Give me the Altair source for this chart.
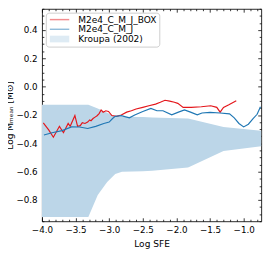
import altair as alt
import pandas as pd
import numpy as np

# ---------------- data ----------------
red_x = [-3.98, -3.90, -3.83, -3.74, -3.68, -3.61, -3.58, -3.51, -3.47, -3.43, -3.40, -3.36,
         -3.32, -3.29, -3.27, -3.24, -3.21, -3.18, -3.15, -3.12, -3.09, -3.05, -3.01, -2.96,
         -2.89, -2.82, -2.74, -2.67, -2.60, -2.50, -2.41, -2.31, -2.24, -2.17, -2.10, -2.03,
         -1.98, -1.90, -1.78, -1.63, -1.49, -1.40, -1.35, -1.30, -1.22, -1.11]
red_y = [-0.256, -0.305, -0.357, -0.280, -0.325, -0.260, -0.280, -0.204, -0.280, -0.275, -0.255, -0.260,
         -0.250, -0.235, -0.240, -0.225, -0.215, -0.205, -0.190, -0.164, -0.180, -0.170, -0.175, -0.204,
         -0.210, -0.200, -0.180, -0.170, -0.158, -0.146, -0.135, -0.123, -0.110, -0.096, -0.102, -0.110,
         -0.118, -0.146, -0.146, -0.142, -0.135, -0.146, -0.180, -0.146, -0.128, -0.100]

blue_x = [-3.97, -3.85, -3.70, -3.56, -3.44, -3.32, -3.20, -3.08, -3.00, -2.95, -2.91, -2.82,
          -2.70, -2.62, -2.50, -2.38, -2.29, -2.20, -2.07, -1.97, -1.88, -1.79, -1.69, -1.62,
          -1.50, -1.35, -1.21, -1.14, -1.07, -1.00, -0.93, -0.86, -0.80, -0.75]
blue_y = [-0.341, -0.325, -0.310, -0.284, -0.285, -0.295, -0.280, -0.260, -0.250, -0.225, -0.210, -0.205,
          -0.220, -0.200, -0.175, -0.153, -0.170, -0.170, -0.199, -0.180, -0.164, -0.180, -0.199, -0.186,
          -0.182, -0.186, -0.192, -0.220, -0.260, -0.284, -0.265, -0.225, -0.195, -0.142]

kroupa_x = [-4.00, -3.31, -3.17, -3.03, -2.91, -2.81, -2.50, -2.36, -1.83, -1.81, -1.30, -0.74]
kroupa_hi = [-0.128, -0.128, -0.155, -0.185, -0.210, -0.212, -0.215, -0.218, -0.225, -0.226, -0.284, -0.312]
kroupa_lo = [-0.921, -0.921, -0.765, -0.673, -0.616, -0.600, -0.597, -0.593, -0.570, -0.567, -0.455, -0.421]

series_names = ["M2e4_C_M_J_BOX", "M2e4_C_M_J", "Kroupa (2002)"]
series_colors = ["#e4161b", "#1f77b4", "#bcd6e8"]

x_major = [-4.0, -3.5, -3.0, -2.5, -2.0, -1.5, -1.0]
y_major = [-0.8, -0.6, -0.4, -0.2, 0.0, 0.2, 0.4]

# ---------------- tables ----------------
df_red = pd.DataFrame({"x": red_x, "y": red_y, "series": series_names[0]})
df_blue = pd.DataFrame({"x": blue_x, "y": blue_y, "series": series_names[1]})
df_band = pd.DataFrame({"x": kroupa_x, "lo": kroupa_lo, "hi": kroupa_hi, "series": series_names[2]})
df_all = pd.concat([df_red, df_blue], ignore_index=True)

x_minor = [round(v, 2) for v in np.arange(-4.0, -0.7, 0.1) if min(abs(v - m) for m in x_major) > 1e-6]
y_minor = [round(v, 3) for v in np.arange(-0.95, 0.551, 0.05) if min(abs(v - m) for m in y_major) > 1e-6]

W, H = 226, 219
XD = [-4.0, -0.74]
YD = [-0.95, 0.55]
xs = alt.Scale(domain=XD, nice=False, zero=False)
ys = alt.Scale(domain=YD, nice=False, zero=False)
cs = alt.Scale(domain=series_names, range=series_colors)

FONT = "DejaVu Sans"
minus = "replace(format(datum.value, '.1f'), '-', '\u2212')"


def tick_axis(orient, values, size, offset):
    return alt.Axis(orient=orient, values=values, tickSize=size, offset=offset, labels=False,
                    domain=False, title=None, grid=False, tickColor="#000", tickWidth=0.8)


label_x = alt.Axis(orient="bottom", values=x_major, ticks=False, domain=False, grid=False,
                   labelExpr=minus, labelFont=FONT, labelFontSize=9, labelColor="#000",
                   labelPadding=5, labelFlush=False, title="Log SFE", titleFont=FONT,
                   titleFontSize=9.3, titleFontWeight="normal", titleColor="#000", titlePadding=5)
label_y = alt.Axis(orient="left", values=y_major, ticks=False, domain=False, grid=False,
                   labelExpr=minus, labelFont=FONT, labelFontSize=9, labelColor="#000",
                   labelPadding=5, labelFlush=False,
                   title="Log M\u2098\u2091\u2090\u2099 [M\u2299]", titleFont=FONT,
                   titleFontSize=9.3, titleFontWeight="normal", titleColor="#000", titlePadding=1)

band = alt.Chart(df_band).mark_area(opacity=1, color=series_colors[2]).encode(
    x=alt.X("x:Q", scale=xs, axis=label_x),
    y=alt.Y("lo:Q", scale=ys, axis=label_y),
    y2="hi:Q",
)

red = alt.Chart(df_red).mark_line(strokeWidth=1.2, color=series_colors[0]).encode(
    x=alt.X("x:Q", scale=xs, axis=tick_axis("top", x_major, 3.5, -H)),
    y=alt.Y("y:Q", scale=ys, axis=tick_axis("right", y_major, 3.5, -W)),
)

blue = alt.Chart(df_blue).mark_line(strokeWidth=1.2, color=series_colors[1]).encode(
    x=alt.X("x:Q", scale=xs, axis=tick_axis("bottom", x_major, 3.5, -H)),
    y=alt.Y("y:Q", scale=ys, axis=tick_axis("left", y_major, 3.5, -W)),
)

line_path = "M-1,-0.25L5.67,-0.25L5.67,0.25L-1,0.25Z"
patch_path = "M-1,-1.15L5.67,-1.15L5.67,1.15L-1,1.15Z"

legend_pts = alt.Chart(df_all).mark_point(filled=True, size=0).encode(
    x=alt.X("x:Q", scale=xs, axis=tick_axis("top", x_minor, 2, -H)),
    y=alt.Y("y:Q", scale=ys, axis=tick_axis("right", y_minor, 2, -W)),
    color=alt.Color("series:N", scale=cs, legend=alt.Legend(
        title=None, orient="top-left", offset=4, padding=2.5, strokeColor="#cccccc",
        cornerRadius=3, fillColor="white", labelFont=FONT, labelFontSize=9.3, labelColor="#000",
        symbolSize=36, symbolOpacity=1, labelOffset=21.5, rowPadding=0, symbolStrokeWidth=0)),
    shape=alt.Shape("series:N", scale=alt.Scale(domain=series_names,
                                                range=[line_path, line_path, patch_path])),
)

minor2 = alt.Chart(df_all).mark_point(opacity=0).encode(
    x=alt.X("x:Q", scale=xs, axis=tick_axis("bottom", x_minor, 2, -H)),
    y=alt.Y("y:Q", scale=ys, axis=tick_axis("left", y_minor, 2, -W)),
)

chart = alt.layer(band, red, blue, legend_pts, minor2).resolve_axis(
    x="independent", y="independent"
).properties(
    width=W, height=H,
    autosize=alt.AutoSizeParams(type="none"),
    padding={"left": 35, "top": -3, "right": 5, "bottom": 30},
).configure_view(stroke="#262626", strokeWidth=1).configure_axis(grid=False)

chart.save("out.html", embed_options={"renderer": "svg", "actions": False})
